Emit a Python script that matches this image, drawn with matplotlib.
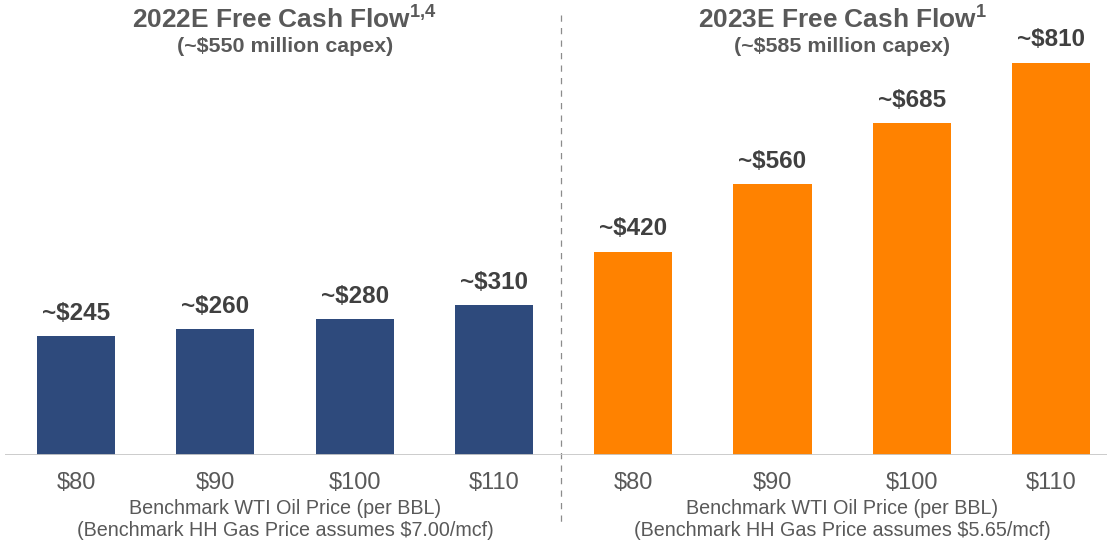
import numpy as np
import matplotlib.pyplot as plt

plt.rcParams["font.family"] = ["Liberation Sans", "DejaVu Sans"]
plt.rcParams["mathtext.fontset"] = "custom"
plt.rcParams["mathtext.rm"] = "Liberation Sans"
plt.rcParams["mathtext.bf"] = "Liberation Sans:bold"

# data
oil_prices = ["$80", "$90", "$100", "$110"]
fcf_2022 = [245, 260, 280, 310]
fcf_2023 = [420, 560, 685, 810]
titles = ["2022E Free Cash Flow$^{\\mathbf{1{,}4}}$", "2023E Free Cash Flow$^{\\mathbf{1}}$"]
subtitles = ["(~\\$550 million capex)", "(~\\$585 million capex)"]
gas_notes = ["(Benchmark HH Gas Price assumes \\$7.00/mcf)",
             "(Benchmark HH Gas Price assumes \\$5.65/mcf)"]
axis_label = "Benchmark WTI Oil Price (per BBL)"

NAVY = "#2E4A7C"
ORANGE = "#FF8200"
GREY_TXT = "#595959"
VAL_TXT = "#404040"

W, H = 1112, 542
fig = plt.figure(figsize=(W / 100, H / 100), dpi=100)
base_px = 87
ax = fig.add_axes([5 / W, base_px / H, 1102 / W, (H - base_px) / H])

step = 139.3
x0 = 76
ax.set_xlim((5 - x0) / step, (1107 - x0) / step)
ax.set_ylim(0, 455 / 0.4845)

groups = [fcf_2022, fcf_2023]
colors = [NAVY, ORANGE]


def fy(y_px):
    # pixel row from top -> axes fraction
    return (H - y_px - base_px) / (H - base_px)


xt = ax.get_xaxis_transform()
for g, (vals, col) in enumerate(zip(groups, colors)):
    xs = np.arange(len(vals)) + 4 * g
    ax.bar(xs, vals, width=0.56, color=col, zorder=2)
    for i, (x, v) in enumerate(zip(xs, vals)):
        ax.annotate(f"~\\${v}", (x, v), xytext=(0, 8), textcoords="offset points",
                    ha="center", va="bottom", fontsize=17.5, fontweight="bold",
                    color=VAL_TXT)
        ax.text(x, fy(483), oil_prices[i].replace("$", "\\$"), transform=xt,
                ha="center", va="center", fontsize=17, color=GREY_TXT)
    cx = xs.mean()
    ax.text(cx, fy(509), axis_label, transform=xt,
            ha="center", va="center", fontsize=14.2, color=GREY_TXT)
    ax.text(cx, fy(531), gas_notes[g], transform=xt,
            ha="center", va="center", fontsize=14.2, color=GREY_TXT)
    ax.text(cx, fy(19), titles[g], transform=xt,
            ha="center", va="center", fontsize=18.9, fontweight="bold", color=GREY_TXT)
    ax.text(cx, fy(47), subtitles[g], transform=xt,
            ha="center", va="center", fontsize=15.4, fontweight="bold", color=GREY_TXT)

# baseline and divider
ax.axhline(0, color="#C8C8C8", linewidth=2, zorder=3)
ax.axvline((561 - x0) / step, ymin=fy(15), ymax=fy(522), color="#8C8C8C",
           linewidth=0.9, linestyle=(0, (5, 5)), clip_on=False)

ax.axis("off")

fig.savefig("out.png", dpi=100)
